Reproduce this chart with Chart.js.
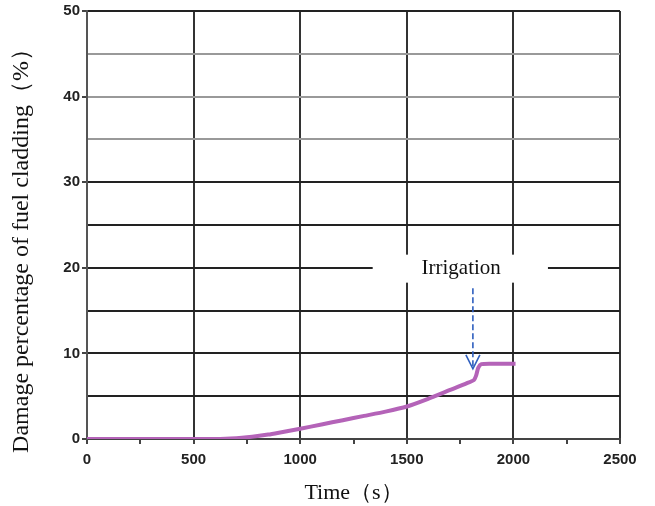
<!DOCTYPE html>
<html><head><meta charset="utf-8">
<script src="https://cdn.jsdelivr.net/npm/chart.js@4/dist/chart.umd.min.js"></script>
<style>html,body{margin:0;padding:0;background:#fff}#wrap{width:655px;height:506px}</style>
</head><body><div id="wrap"><canvas id="c" width="655" height="506"></canvas></div>
<script>
const times = [0, 200, 400, 600, 650, 700, 750, 800, 850, 900, 950, 1000, 1100, 1200, 1300, 1400, 1500, 1600, 1700, 1780, 1815, 1825, 1835, 1850, 1900, 2000, 2010];
const damage = [0, 0, 0, 0, 0.03, 0.1, 0.2, 0.34, 0.52, 0.74, 0.97, 1.2, 1.7, 2.2, 2.7, 3.2, 3.8, 4.7, 5.7, 6.5, 6.9, 7.4, 8.3, 8.75, 8.8, 8.8, 8.8];
const xTickLabels = [0, 500, 1000, 1500, 2000, 2500];
const yTickLabels = [0, 10, 20, 30, 40, 50];
const yLightLines = [35, 40, 45];
const yTitle = 'Damage percentage of fuel cladding（%）';
const noteText = 'Irrigation';
const noteTime = 1755, noteValue = 19.9;
const arrowTime = 1810, arrowTop = 17.6, arrowBottom = 8.2;

const annot = {
  id: 'annot',
  afterDatasetsDraw(chart) {
    const {ctx, scales: {x, y}} = chart;
    ctx.save();
    const tx = x.getPixelForValue(noteTime), ty = y.getPixelForValue(noteValue);
    ctx.fillStyle = '#fff';
    ctx.fillRect(x.getPixelForValue(1340), ty - 14, x.getPixelForValue(2162) - x.getPixelForValue(1340), 28);
    ctx.fillStyle = '#111';
    ctx.font = '21px "Liberation Serif", "Times New Roman", serif';
    ctx.textAlign = 'center';
    ctx.textBaseline = 'middle';
    ctx.fillText(noteText, tx, ty);
    const ax = x.getPixelForValue(arrowTime);
    const a1 = y.getPixelForValue(arrowTop), a2 = y.getPixelForValue(arrowBottom);
    ctx.strokeStyle = '#2f5fbf';
    ctx.lineWidth = 1.6;
    ctx.setLineDash([6, 3]);
    ctx.beginPath(); ctx.moveTo(ax, a1); ctx.lineTo(ax, a2); ctx.stroke();
    ctx.setLineDash([]);
    ctx.beginPath(); ctx.moveTo(ax - 7, a2 - 14); ctx.lineTo(ax, a2); ctx.lineTo(ax + 7, a2 - 14); ctx.stroke();
    ctx.translate(22, (y.top + y.bottom) / 2 + 20);
    ctx.rotate(-Math.PI / 2);
    ctx.fillStyle = '#111';
    ctx.font = '24px "Liberation Serif", "Times New Roman", serif';
    ctx.fillText(yTitle, 0, 0);
    ctx.restore();
  }
};

new Chart(document.getElementById('c'), {
  type: 'line',
  data: { datasets: [{ data: times.map((t, i) => ({x: t, y: damage[i]})), borderColor: '#b463b8', borderWidth: 4, pointRadius: 0, tension: 0.2, fill: false }] },
  options: {
    responsive: false, animation: false,
    layout: { padding: { left: 0, top: 7, right: 35, bottom: 0 } },
    plugins: { legend: { display: false }, tooltip: { enabled: false } },
    scales: {
      x: {
        type: 'linear', min: 0, max: 2500,
        afterFit: s => { s.height = 67; },
        afterBuildTicks: s => { const t = []; for (let v = 0; v <= 2500; v += 250) t.push({value: v}); s.ticks = t; },
        ticks: { autoSkip: false, maxRotation: 0, color: '#222', font: { family: '"Liberation Sans", Arial, sans-serif', size: 15, weight: 'bold' }, padding: 7,
          callback: v => xTickLabels.includes(v) ? String(v) : '' },
        grid: { color: c => (c.tick && c.tick.value % 500 === 0) ? '#333' : 'rgba(0,0,0,0)', tickColor: '#444', tickLength: 5, lineWidth: 2 },
        border: { color: '#444', width: 2 },
        title: { display: true, text: 'Time（s）', color: '#111', font: { family: '"Liberation Serif", "Times New Roman", serif', size: 22 }, padding: { top: 0, bottom: 0 } }
      },
      y: {
        min: 0, max: 50,
        afterFit: s => { s.width = 87; },
        afterBuildTicks: s => { const t = []; for (let v = 0; v <= 50; v += 5) t.push({value: v}); s.ticks = t; },
        ticks: { autoSkip: false, color: '#222', font: { family: '"Liberation Sans", Arial, sans-serif', size: 15, weight: 'bold' }, padding: 2,
          callback: v => yTickLabels.includes(v) ? String(v) : '' },
        grid: { color: c => (c.tick && yLightLines.includes(c.tick.value)) ? '#999' : '#222', tickColor: c => (c.tick && c.tick.value % 10 === 0) ? '#444' : 'rgba(0,0,0,0)', tickLength: 5, lineWidth: 2 },
        border: { color: '#555', width: 2 },
        title: { display: false }
      }
    }
  },
  plugins: [annot]
});
</script></body></html>
